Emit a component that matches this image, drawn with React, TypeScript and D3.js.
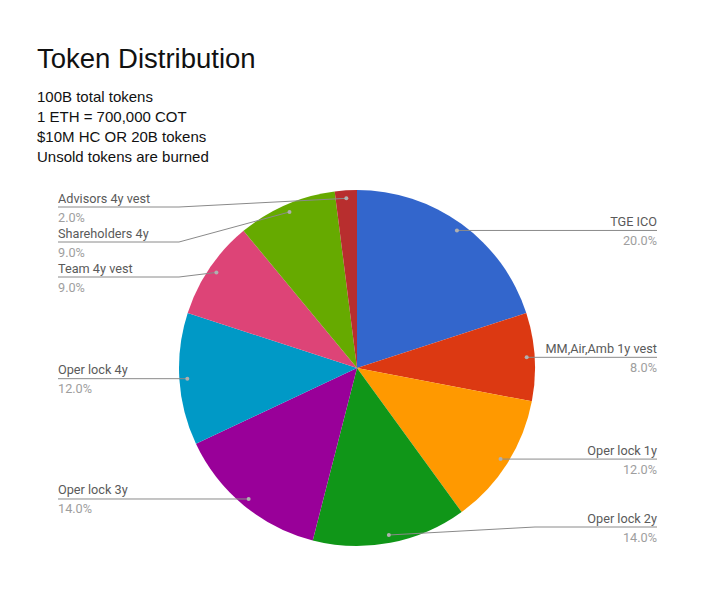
import React from "react";
import * as d3 from "d3";

const labels = [
  "TGE ICO",
  "MM,Air,Amb 1y vest",
  "Oper lock 1y",
  "Oper lock 2y",
  "Oper lock 3y",
  "Oper lock 4y",
  "Team 4y vest",
  "Shareholders 4y",
  "Advisors 4y vest",
];
const values = [20, 8, 12, 14, 14, 12, 9, 9, 2];
const colors = [
  "#3366cc",
  "#dc3912",
  "#ff9900",
  "#109618",
  "#990099",
  "#0099c6",
  "#dd4477",
  "#66aa00",
  "#b82e2e",
];
const title = "Token Distribution";
const subtitle = [
  "100B total tokens",
  "1 ETH = 700,000 COT",
  "$10M HC OR 20B tokens",
  "Unsold tokens are burned",
];

const W = 720;
const H = 605;
const cx = 357;
const cy = 368;
const R = 178;
const dotR = 170;
const yMin = 207;
const yMax = 527;
const gap = 35;
const leftX = 58;
const rightX = 657;

export default function App() {
  const pie = d3.pie<number>().sort(null).value((d) => d)(values);
  const arc = d3.arc<d3.PieArcDatum<number>>().innerRadius(0).outerRadius(R);
  const total = d3.sum(values);

  const items = pie.map((p, i) => {
    const mid = (p.startAngle + p.endAngle) / 2;
    const dx = cx + dotR * Math.sin(mid);
    const dy = cy - dotR * Math.cos(mid);
    return { i, dx, dy, right: Math.sin(mid) > 0, ly: dy };
  });

  const layout = (side: boolean) => {
    const arr = items.filter((d) => d.right === side).sort((a, b) => a.dy - b.dy);
    arr.forEach((d, k) => {
      d.ly = Math.max(yMin, Math.min(yMax, d.dy));
      if (k > 0 && d.ly < arr[k - 1].ly + gap) d.ly = arr[k - 1].ly + gap;
    });
    for (let k = arr.length - 1; k >= 0; k--) {
      if (arr[k].ly > yMax) arr[k].ly = yMax;
      if (k < arr.length - 1 && arr[k].ly > arr[k + 1].ly - gap) arr[k].ly = arr[k + 1].ly - gap;
    }
  };
  layout(true);
  layout(false);

  return (
    <svg width={W} height={H} style={{ display: "block", position: "absolute", left: 0, top: 0 }}>
      <rect width={W} height={H} fill="#ffffff" />
      <text x={37} y={68} fontFamily="Liberation Sans, Arial, sans-serif" fontSize={27.5} fill="#111">
        {title}
      </text>
      {subtitle.map((s, i) => (
        <text
          key={i}
          x={37}
          y={102 + i * 20}
          fontFamily="Liberation Sans, Arial, sans-serif"
          fontSize={15}
          fill="#111"
        >
          {s}
        </text>
      ))}
      <g transform={`translate(${cx},${cy})`}>
        {pie.map((p, i) => (
          <path key={i} d={arc(p) || ""} fill={colors[i]} />
        ))}
      </g>
      {items.map((d) => {
        const bendX = d.right ? cx + R : cx - R;
        const endX = d.right ? rightX : leftX;
        const pts =
          Math.abs(d.ly - d.dy) < 0.5
            ? `${d.dx},${d.dy} ${endX},${d.ly}`
            : `${d.dx},${d.dy} ${bendX},${d.ly} ${endX},${d.ly}`;
        const pct = ((values[d.i] / total) * 100).toFixed(1) + "%";
        const anchor = d.right ? "end" : "start";
        return (
          <g key={d.i}>
            <polyline points={pts} fill="none" stroke="#8a8a8a" strokeWidth={1} />
            <circle cx={d.dx} cy={d.dy} r={2} fill="#b0b0b0" />
            <text
              x={endX}
              y={d.ly - 4.5}
              textAnchor={anchor}
              fontFamily="Roboto, sans-serif"
              fontSize={12.7}
              fill="#5a5a5a"
            >
              {labels[d.i]}
            </text>
            <text
              x={endX}
              y={d.ly + 14.5}
              textAnchor={anchor}
              fontFamily="Roboto, sans-serif"
              fontSize={12.7}
              fill="#9e9e9e"
            >
              {pct}
            </text>
          </g>
        );
      })}
    </svg>
  );
}
